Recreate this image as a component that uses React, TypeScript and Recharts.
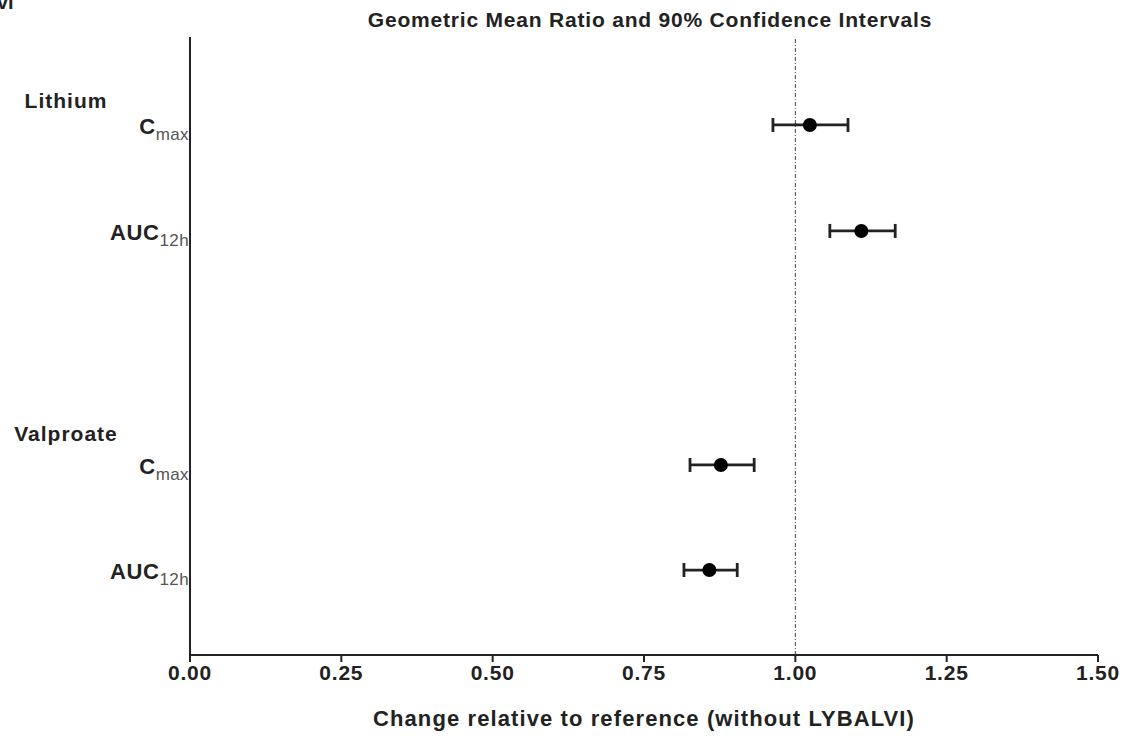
import React from 'react';
import { ScatterChart, Scatter, XAxis, YAxis, ErrorBar, ReferenceLine } from 'recharts';

// Row labels on the y axis (group headers and measures)
const rowLabels = ['Lithium', 'Cmax', 'AUC12h', 'Valproate', 'Cmax', 'AUC12h'];
const rowKinds = ['group', 'measure', 'measure', 'group', 'measure', 'measure'];
const rowPositions = [0.61, 0.854, 1.883, 3.84, 4.155, 5.175];

// Measures (plotted rows)
const measurePositions = [0.854, 1.883, 4.155, 5.175];
const ratios = [1.024, 1.109, 0.877, 0.858];
const lowerCI = [0.963, 1.057, 0.826, 0.816];
const upperCI = [1.087, 1.165, 0.932, 0.904];

const xTicks = [0, 0.25, 0.5, 0.75, 1.0, 1.25, 1.5];

const data = ratios.map((r, i) => ({
  x: r,
  y: measurePositions[i],
  err: [r - lowerCI[i], upperCI[i] - r],
}));

const FONT = '"Liberation Sans", Arial, Helvetica, sans-serif';

const YTick = (props: any) => {
  const { y, payload } = props;
  const idx = rowPositions.indexOf(payload.value);
  if (idx < 0) return null;
  const label = rowLabels[idx];
  if (rowKinds[idx] === 'group') {
    return (
      <text x={66} y={y} dy={8} textAnchor="middle" fontFamily={FONT} fontWeight="bold" fontSize={21} letterSpacing={1} fill="#222">
        {label}
      </text>
    );
  }
  const main = label.startsWith('AUC') ? 'AUC' : 'C';
  const sub = label.startsWith('AUC') ? '12h' : 'max';
  return (
    <text x={189} y={y} dy={9} textAnchor="end" fontFamily={FONT} fill="#222">
      <tspan fontWeight="bold" fontSize={22} letterSpacing={0.6}>{main}</tspan>
      <tspan fontSize={17} dy={6} letterSpacing={0.4} fill="#555">{sub}</tspan>
    </text>
  );
};

export default function App() {
  return (
    <div style={{ position: 'absolute', left: 0, top: 0, width: 1123, height: 738, background: '#fff', fontFamily: FONT }}>
      <div style={{ position: 'absolute', left: -3, top: -9, fontSize: 20, fontWeight: 'bold', color: '#222' }}>vi</div>
      <div style={{ position: 'absolute', left: 190, width: 920, top: 8, textAlign: 'center', fontSize: 21, letterSpacing: 0.8, fontWeight: 'bold', color: '#222' }}>
        Geometric Mean Ratio and 90% Confidence Intervals
      </div>
      <ScatterChart width={1123} height={738} margin={{ top: 37, right: 25, left: 0, bottom: 0 }}>
        <XAxis
          type="number"
          dataKey="x"
          domain={[0, 1.5]}
          ticks={xTicks}
          tickFormatter={(v: number) => v.toFixed(2)}
          height={83}
          axisLine={{ stroke: '#222', strokeWidth: 2 }}
          tickLine={{ stroke: '#222', strokeWidth: 2 }}
          tickSize={7}
          tick={{ fill: '#222', fontSize: 21, fontWeight: 'bold', fontFamily: FONT, letterSpacing: 0.8, dy: 1 }}
          label={{
            value: 'Change relative to reference (without LYBALVI)',
            position: 'insideBottom',
            offset: 12,
            style: { fill: '#222', fontSize: 22, fontWeight: 'bold', fontFamily: FONT, letterSpacing: 1.1, textAnchor: 'middle' },
          }}
        />
        <YAxis
          type="number"
          dataKey="y"
          domain={[0, 6]}
          reversed
          width={190}
          ticks={rowPositions}
          tick={<YTick />}
          tickLine={false}
          axisLine={{ stroke: '#222', strokeWidth: 2 }}
          interval={0}
        />
        <ReferenceLine x={1} stroke="#444" strokeWidth={1} strokeDasharray="4 2 1 2" ifOverflow="extendDomain" />
        <Scatter data={data} fill="#000" isAnimationActive={false} shape={(p: any) => <circle cx={p.cx} cy={p.cy} r={7} fill="#000" />}>
          <ErrorBar dataKey="err" direction="x" width={7} stroke="#222" strokeWidth={2.8} isAnimationActive={false} />
        </Scatter>
      </ScatterChart>
    </div>
  );
}
